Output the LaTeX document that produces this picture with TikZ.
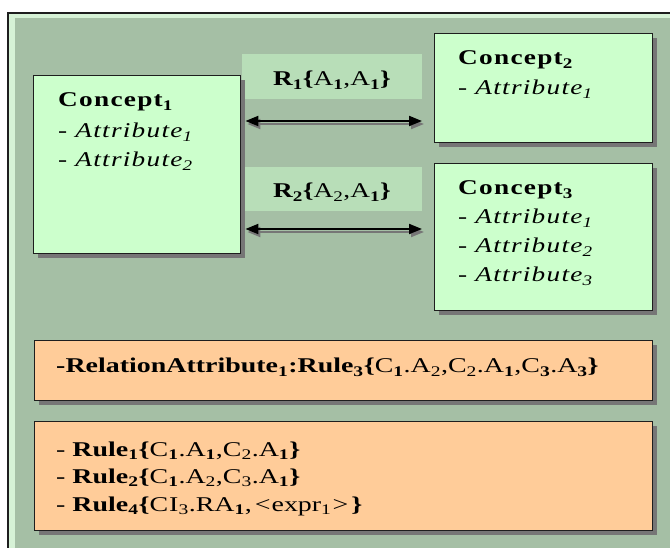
\documentclass[tikz,border=0pt]{standalone}
\usepackage{fontspec}
\setmainfont{Liberation Serif}[FakeStretch=1.3]
\newfontfamily\cfont{Liberation Serif}[FakeStretch=1.3, LetterSpace=6]
\newfontfamily\afont{Liberation Serif}[FakeStretch=1.3, LetterSpace=6]
\newfontfamily\ofont{Liberation Serif}[FakeStretch=1.33]
\usetikzlibrary{arrows.meta,shadows}
\definecolor{bgg}{RGB}{165,191,165}
\definecolor{band}{RGB}{214,242,214}
\definecolor{cfill}{RGB}{204,255,204}
\definecolor{ofill}{RGB}{255,204,153}
\definecolor{lfill}{RGB}{184,222,184}
\definecolor{edge}{RGB}{30,30,30}
\definecolor{shd}{RGB}{118,118,118}
\tikzset{
  box/.style={draw=edge, line width=1.4pt, inner sep=0pt, anchor=north west,
    drop shadow={shadow xshift=4pt, shadow yshift=-4pt, fill=shd, opacity=1}},
  cbox/.style={box, fill=cfill},
  obox/.style={box, fill=ofill},
  lbox/.style={fill=lfill, inner sep=0pt, anchor=north west},
  txt/.style={anchor=base west, inner sep=0pt, font=\fontsize{21}{29}\selectfont},
  ctxt/.style={txt, font=\fontsize{21}{29}\cfont\bfseries},
  atxt/.style={txt, font=\fontsize{21}{29}\afont},
  otxt/.style={txt, font=\fontsize{21}{29}\ofont},
  ltxt/.style={anchor=base, inner sep=0pt, font=\fontsize{21}{29}\selectfont},
  relshadow/.style={draw=shd, line width=2pt, {Triangle[length=13pt,width=10pt]}-{Triangle[length=13pt,width=10pt]}, shorten <=4pt, shorten >=12pt},
  rel/.style={draw=black, line width=2pt, {Triangle[length=13pt,width=10pt]}-{Triangle[length=13pt,width=10pt]}, shorten <=4pt, shorten >=12pt},
}
\begin{document}
\begin{tikzpicture}[x=1pt,y=-1pt]
\useasboundingbox (0,0) rectangle (670,548);
\fill[white] (0,0) rectangle (670,548);
% outer frame
\fill[band] (8,13) rectangle (672,550);
\fill[bgg] (15,18) rectangle (672,550);
\draw[edge, line width=1.5pt] (8,550) -- (8,13) -- (672,13);

% relation labels
\node[lbox, minimum width=180pt, minimum height=45pt] (l1) at (242,54) {};
\node[lbox, minimum width=180pt, minimum height=44pt] (l2) at (242,167) {};

% concept boxes
\node[cbox, minimum width=207pt, minimum height=178pt] (c1) at (33,75) {};
\node[cbox, minimum width=218pt, minimum height=109pt] (c2) at (434,33) {};
\node[cbox, minimum width=218pt, minimum height=147pt] (c3) at (434,163) {};

% rule boxes
\node[obox, minimum width=618pt, minimum height=60pt] (o1) at (34,340) {};
\node[obox, minimum width=618pt, minimum height=109pt] (o2) at (34,421) {};

% connectors
\coordinate (y1) at (0,121);
\coordinate (y2) at (0,229);
\draw[relshadow] ([shift={(2,3)}]c1.east |- y1) -- ([shift={(2,3)}]c2.west |- y1);
\draw[relshadow] ([shift={(2,3)}]c1.east |- y2) -- ([shift={(2,3)}]c3.west |- y2);
\draw[rel] (c1.east |- y1) -- (c2.west |- y1);
\draw[rel] (c1.east |- y2) -- (c3.west |- y2);

% label texts
\node[ltxt] (r1) at (332,86) {\textbf{R\textsubscript{1}\{}A\textsubscript{\textbf{1}},A\textsubscript{\textbf{1}}\textbf{\}}};
\node[ltxt] (r2) at (332,198) {\textbf{R\textsubscript{2}\{}A\textsubscript{2},A\textsubscript{\textbf{1}}\textbf{\}}};

% concept texts
\node[ctxt] (c1a) at (58,107) {Concept\textsubscript{1}};
\node[atxt] (c1b) at (58,138) {- \textit{Attribute\textsubscript{1}}};
\node[atxt] (c1c) at (58,167) {- \textit{Attribute\textsubscript{2}}};

\node[ctxt] (c2a) at (458,65) {Concept\textsubscript{2}};
\node[atxt] (c2b) at (458,95) {- \textit{Attribute\textsubscript{1}}};

\node[ctxt] (c3a) at (458,195) {Concept\textsubscript{3}};
\node[atxt] (c3b) at (458,224) {- \textit{Attribute\textsubscript{1}}};
\node[atxt] (c3c) at (458,253) {- \textit{Attribute\textsubscript{2}}};
\node[atxt] (c3d) at (458,282) {- \textit{Attribute\textsubscript{3}}};

% rule texts
\node[otxt] (o1a) at (56,373) {\textbf{-RelationAttribute\textsubscript{1}:Rule\textsubscript{3}\{}C\textsubscript{\textbf{1}}.A\textsubscript{2},C\textsubscript{2}.A\textsubscript{\textbf{1}},C\textsubscript{\textbf{3}}.A\textsubscript{\textbf{3}}\textbf{\}}};
\node[otxt] (o2a) at (56,456) {- \textbf{Rule\textsubscript{1}\{}C\textsubscript{\textbf{1}}.A\textsubscript{\textbf{1}},C\textsubscript{2}.A\textsubscript{\textbf{1}}\textbf{\}}};
\node[otxt] (o2b) at (56,483) {- \textbf{Rule\textsubscript{2}\{}C\textsubscript{\textbf{1}}.A\textsubscript{2},C\textsubscript{3}.A\textsubscript{\textbf{1}}\textbf{\}}};
\node[otxt] (o2c) at (56,511) {- \textbf{Rule\textsubscript{4}\{}C\kern1ptI\textsubscript{3}.RA\textsubscript{\textbf{1}},\kern3pt<\kern1ptexpr\textsubscript{1}\kern1pt>\kern3pt\textbf{\}}};
\end{tikzpicture}
\end{document}
